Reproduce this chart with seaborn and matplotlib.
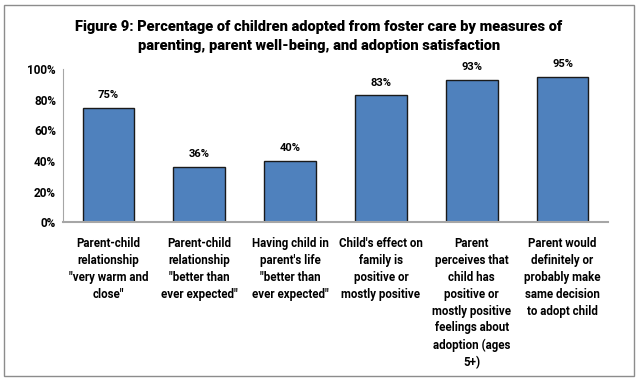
import matplotlib
matplotlib.use("Agg")
import matplotlib.pyplot as plt
import seaborn as sns
import pandas as pd
from matplotlib.patches import Rectangle
from matplotlib.ticker import PercentFormatter

categories = [
    'Parent-child\nrelationship\n"very warm and\nclose"',
    'Parent-child\nrelationship\n"better than\never expected"',
    "Having child in\nparent's life\n\"better than\never expected\"",
    "Child's effect on\nfamily is\npositive or\nmostly positive",
    "Parent\nperceives that\nchild has\npositive or\nmostly positive\nfeelings about\nadoption (ages\n5+)",
    "Parent would\ndefinitely or\nprobably make\nsame decision\nto adopt child",
]
values = [75, 36, 40, 83, 93, 95]
value_labels = ["75%", "36%", "40%", "83%", "93%", "95%"]

sns.set_style("white")
plt.rcParams["font.family"] = ["Roboto", "DejaVu Sans"]
plt.rcParams["text.color"] = "black"
plt.rcParams["xtick.color"] = "black"
plt.rcParams["ytick.color"] = "black"

df = pd.DataFrame({"measure": categories, "pct": values})

fig = plt.figure(figsize=(6.38, 3.81), dpi=100)
ax = fig.add_axes([0.0987, 0.417, 0.8543, 0.401])

sns.barplot(data=df, x="measure", y="pct", color="#4F81BD", saturation=1,
            width=0.57, edgecolor="#1a1a1a", linewidth=1.0, ax=ax)

for i, (v, lab) in enumerate(zip(values, value_labels)):
    ax.text(i, v + 5, lab, ha="center", va="bottom", fontsize=8,
            fontweight="bold")

ax.set_ylim(0, 100)
ax.set_xlim(-0.5, len(values) - 0.5)
ax.yaxis.set_major_formatter(PercentFormatter(decimals=0))
ax.set_yticks([0, 20, 40, 60, 80, 100])
ax.set_xlabel("")
ax.set_ylabel("")
ax.tick_params(axis="both", length=0)
ax.tick_params(axis="y", pad=5)
ax.tick_params(axis="x", pad=11)
for t in ax.get_yticklabels():
    t.set_fontsize(8.5)
    t.set_fontweight("bold")
for t in ax.get_xticklabels():
    t.set_fontsize(8.3)
    t.set_fontweight("bold")
    t.set_va("top")
    t.set_linespacing(1.38)

for s in ["top", "right"]:
    ax.spines[s].set_visible(False)
ax.spines["left"].set_color("#A6A6A6")
ax.spines["bottom"].set_color("#A6A6A6")
ax.spines["bottom"].set_linewidth(1.5)

fig.text(0.5, 0.903, "Figure 9: Percentage of children adopted from foster care by measures of\n"
         "parenting, parent well-being, and adoption satisfaction",
         ha="center", va="center", fontsize=10.5, fontweight="heavy", linespacing=1.45)

fig.patches.append(Rectangle((0.006, 0.013), 0.988, 0.975, transform=fig.transFigure,
                             fill=False, edgecolor="#8C8C8C", linewidth=1.0))

fig.savefig("out.png", dpi=100)
